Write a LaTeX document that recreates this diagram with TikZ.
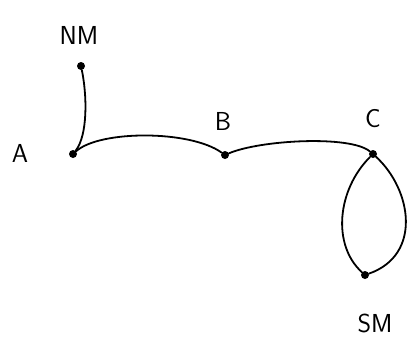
\documentclass[tikz,border=0pt]{standalone}
\begin{document}
\begin{tikzpicture}[x=1pt,y=-1pt,
  vertex/.style={circle,fill=black,inner sep=0pt,minimum size=8pt},
  vlabel/.style={font=\fontsize{26}{28}\selectfont\sffamily},
  edge/.style={line width=1.8pt,line cap=round}]
  \useasboundingbox (0,0) rectangle (417,349);

  % vertices
  \node[vertex] (nm) at (81,66) {};
  \node[vertex] (a)  at (73,154) {};
  \node[vertex] (b)  at (225,155) {};
  \node[vertex] (c)  at (373,154) {};
  \node[vertex] (sm) at (365,275) {};

  % labels
  \node[vlabel] (lnm) at (79,35) {NM};
  \node[vlabel] (la)  at (20,153) {A};
  \node[vlabel] (lb)  at (223,121) {B};
  \node[vlabel] (lc)  at (373,119) {C};
  \node[vlabel] (lsm) at (375,323) {SM};

  % edges
  \draw[edge] (nm) .. controls (87,95) and (88,135) .. (a);
  \draw[edge] (a) .. controls (100,130) and (190,130) .. (b);
  \draw[edge] (b) .. controls (260,140) and (350,135) .. (c);
  \draw[edge] (c) .. controls (337,190) and (332,245) .. (sm);
  \draw[edge] (c) .. controls (412,190) and (422,255) .. (sm);
\end{tikzpicture}
\end{document}
